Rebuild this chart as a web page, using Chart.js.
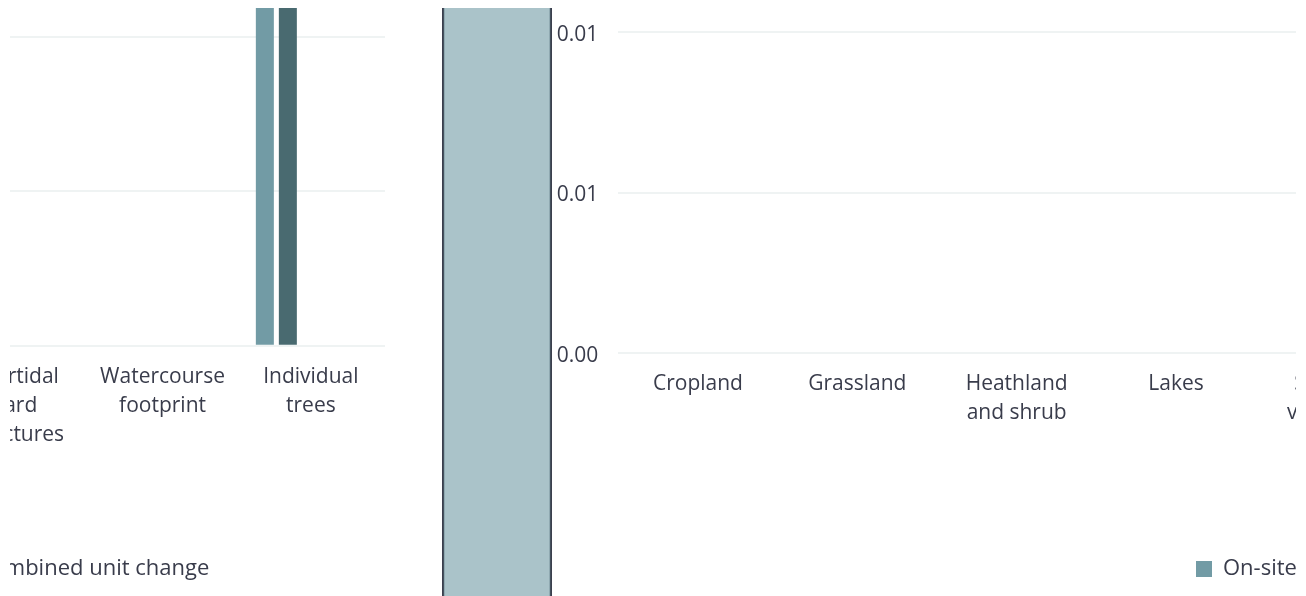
<!DOCTYPE html>
<html>
<head>
<meta charset="utf-8">
<script src="https://cdn.jsdelivr.net/npm/chart.js@4.4.1/dist/chart.umd.min.js"></script>
<style>
  html, body { margin: 0; padding: 0; background: #ffffff; width: 1306px; height: 596px; overflow: hidden; }
  #clip { position: absolute; left: 10px; top: 8px; width: 1286px; height: 588px; overflow: hidden; }
  canvas { position: absolute; }
  #leftChart { left: -525px; top: -148px; }
  #midChart { left: 432px; top: 0px; }
  #rightChart { left: 542px; top: 0px; }
</style>
</head>
<body>
<div id="clip">
  <canvas id="leftChart" width="900" height="730"></canvas>
  <canvas id="midChart" width="110" height="588"></canvas>
  <canvas id="rightChart" width="863" height="582"></canvas>
</div>
<script>
// ---------- data ----------
const seriesNames = ['On-site', 'Off-site', 'Statutory credits', 'Other', 'Combined unit change'];

// left panel (end of a habitat chart)
const leftCategories = [['Intertidal', 'hard', 'structures'], ['Watercourse', 'footprint'], ['Individual', 'trees']];
const leftOnSite = [0, 0, 2.6];
const leftOffSite = [0, 0, 2.5];
const leftStatutory = [0, 0, 0];
const leftOther = [0, 0, 0];
const leftCombined = [0, 0, 0];
const leftTicks = [0, 1, 2, 3];

// right panel (start of the next habitat chart)
const rightCategories = ['Cropland', 'Grassland', ['Heathland', 'and shrub'], 'Lakes', ['Sparsely', 'vegetated', 'land']];
const rightOnSite = [0, 0, 0, 0, 0];
const rightOffSite = [0, 0, 0, 0, 0];
const rightStatutory = [0, 0, 0, 0, 0];
const rightOther = [0, 0, 0, 0, 0];
const rightCombined = [0, 0, 0, 0, 0];
const rightTicks = [0, 0.005, 0.01];

// highlighted bar between the two panels
const midCategories = [''];
const midValues = [1];

// ---------- styles ----------
const seriesColors = ['#729ba5', '#496a70', '#a9c3c9', '#2e474c', '#c7d7da'];
const textColor = '#393c4b';
const gridColor = '#eff3f3';
const FONT = "'Open Sans', 'Noto Sans', sans-serif";

Chart.defaults.font.family = FONT;
Chart.defaults.color = textColor;

// places the legend row at a given x inside the canvas
const legendAnchor = {
  id: 'legendAnchor',
  afterLayout(chart, args, opts) {
    const lg = chart.legend;
    if (!lg || opts.x === undefined) return;
    const pad = lg.options.labels.padding;
    const w = lg.right - lg.left;
    if (lg.options.align === 'end') {
      lg.right = opts.x + pad;
      lg.left = lg.right - w;
    } else {
      lg.left = opts.x - pad;
      lg.right = lg.left + w;
    }
  }
};

function makeDatasets(arrays) {
  return arrays.map((d, i) => ({
    label: seriesNames[i],
    data: d,
    backgroundColor: seriesColors[i],
    borderWidth: 0,
    categoryPercentage: 0.7755,
    barPercentage: 0.7826
  }));
}

function panelOptions(cfg) {
  return {
    responsive: false,
    animation: false,
    layout: { padding: { top: cfg.padTop, left: 0, right: 0, bottom: 0 } },
    plugins: {
      legend: {
        position: 'bottom',
        align: cfg.legendAlign,
        labels: { boxWidth: 16, boxHeight: 16, padding: 10, color: textColor, font: { size: 22 } }
      },
      tooltip: { enabled: false },
      legendAnchor: { x: cfg.legendX }
    },
    scales: {
      x: {
        grid: { display: false, drawTicks: false },
        border: { display: false },
        ticks: { maxRotation: 0, autoSkip: false, padding: 16.5, color: textColor, font: { size: 21, lineHeight: 29 / 21 } },
        afterFit: (s) => { s.height = cfg.xHeight; }
      },
      y: {
        min: cfg.ticks[0],
        max: cfg.ticks[cfg.ticks.length - 1],
        afterBuildTicks: (s) => { s.ticks = cfg.ticks.map(v => ({ value: v })); },
        grid: { color: gridColor, lineWidth: 2, drawTicks: true, tickLength: 20, tickColor: 'rgba(0,0,0,0)' },
        border: { display: false },
        ticks: {
          padding: 0, labelOffset: 3, color: textColor, font: { size: 21 },
          callback: (v) => (Math.round(v * 100) / 100).toFixed(2)
        },
        afterFit: (s) => { s.width = cfg.yWidth; }
      }
    }
  };
}

new Chart(document.getElementById('leftChart'), {
  type: 'bar',
  data: {
    labels: leftCategories,
    datasets: makeDatasets([leftOnSite, leftOffSite, leftStatutory, leftOther, leftCombined])
  },
  options: panelOptions({ padTop: 22.2, xHeight: 202.3, yWidth: 455.1, ticks: leftTicks, legendAlign: 'end', legendX: 724.3 }),
  plugins: [legendAnchor]
});

new Chart(document.getElementById('rightChart'), {
  type: 'bar',
  data: {
    labels: rightCategories,
    datasets: makeDatasets([rightOnSite, rightOffSite, rightStatutory, rightOther, rightCombined])
  },
  options: panelOptions({ padTop: 24.3, xHeight: 195.3, yWidth: 66.3, ticks: rightTicks, legendAlign: 'start', legendX: 644 }),
  plugins: [legendAnchor]
});

new Chart(document.getElementById('midChart'), {
  type: 'bar',
  data: {
    labels: midCategories,
    datasets: [{
      label: seriesNames[0],
      data: midValues,
      backgroundColor: 'rgba(114, 155, 165, 0.6)',
      borderColor: '#3b3f4d',
      borderWidth: { left: 2, right: 2, top: 0, bottom: 0 },
      borderSkipped: false,
      categoryPercentage: 1,
      barPercentage: 1
    }]
  },
  options: {
    responsive: false,
    animation: false,
    layout: { padding: 0 },
    plugins: { legend: { display: false }, tooltip: { enabled: false } },
    scales: {
      x: { display: false },
      y: { display: false, min: 0, max: 1 }
    }
  }
});
</script>
</body>
</html>
